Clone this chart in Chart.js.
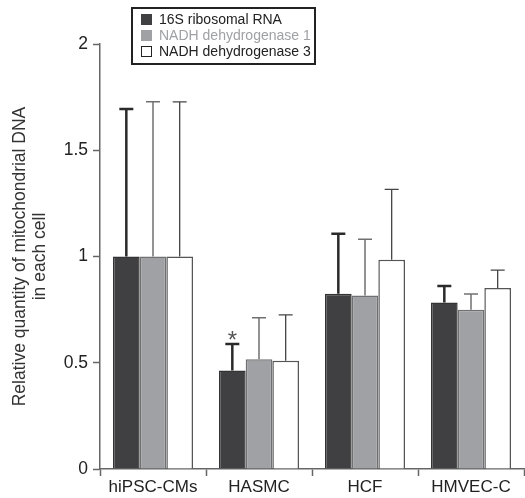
<!DOCTYPE html>
<html>
<head>
<meta charset="utf-8">
<script src="https://cdn.jsdelivr.net/npm/chart.js@4.4.1/dist/chart.umd.min.js"></script>
<style>
  html, body { margin: 0; padding: 0; background: #fff; }
  #wrap { position: relative; width: 525px; height: 498px; }
  #legend {
    position: absolute; left: 131px; top: 7px; width: 181px; height: 52px;
    border: 2px solid #222; font: 14px "Liberation Sans", Arial, sans-serif;
    padding-top: 2px;
  }
  .leg-item { display: flex; align-items: center; height: 16px; }
  .leg-box { width: 11px; height: 11px; margin: 0 7px 0 8px; box-sizing: border-box; }
</style>
</head>
<body>
<div id="wrap">
  <canvas id="chart" width="525" height="498"></canvas>
  <div id="legend"></div>
</div>
<script>
const categories = ['hiPSC-CMs', 'HASMC', 'HCF', 'HMVEC-C'];
const seriesNames = ['16S ribosomal RNA', 'NADH dehydrogenase 1', 'NADH dehydrogenase 3'];
const rrna16s = [1, 0.463, 0.825, 0.783];
const rrna16sErr = [0.694, 0.125, 0.282, 0.078];
const nadh1 = [1, 0.516, 0.817, 0.750];
const nadh1Err = [0.728, 0.196, 0.264, 0.074];
const nadh3 = [1, 0.510, 0.985, 0.852];
const nadh3Err = [0.728, 0.215, 0.331, 0.084];
const rrna16sMarks = ['', '*', '', ''];
const yTicks = [0, 0.5, 1, 1.5, 2];

const fontFam = '"Liberation Sans", Arial, sans-serif';
const fills = ['#404042', '#a0a1a4', '#ffffff'];
const borders = ['#333335', '#707072', '#555555'];
const errColors = ['#2a2a2a', '#707070', '#444444'];
const errWidths = [2.5, 1.5, 1.3];
const legendText = ['#222', '#a0a1a4', '#222'];

document.getElementById('legend').innerHTML = seriesNames.map((n, i) => `
  <div class="leg-item">
    <span class="leg-box" style="background:${fills[i]};border:${i == 2 ? '1.5px solid #222' : 'none'}"></span>
    <span style="color:${legendText[i]}">${n}</span>
  </div>`).join('');

const errorBars = {
  id: 'errorBars',
  afterDatasetsDraw(chart) {
    const ctx = chart.ctx;
    const yScale = chart.scales.y;
    chart.data.datasets.forEach((ds, i) => {
      const meta = chart.getDatasetMeta(i);
      meta.data.forEach((bar, j) => {
        const top = yScale.getPixelForValue(ds.data[j] + ds.errors[j]);
        ctx.save();
        ctx.strokeStyle = errColors[i];
        ctx.lineWidth = errWidths[i];
        ctx.beginPath();
        ctx.moveTo(bar.x, bar.y);
        ctx.lineTo(bar.x, top);
        ctx.moveTo(bar.x - 7, top);
        ctx.lineTo(bar.x + 7, top);
        ctx.stroke();
        if (ds.marks && ds.marks[j]) {
          ctx.fillStyle = '#555';
          ctx.font = '24px ' + fontFam;
          ctx.textAlign = 'center';
          ctx.textBaseline = 'alphabetic';
          ctx.fillText(ds.marks[j], bar.x, top + 4);
        }
        ctx.restore();
      });
    });
  }
};

new Chart(document.getElementById('chart'), {
  type: 'bar',
  data: {
    labels: categories,
    datasets: [
      { label: seriesNames[0], data: rrna16s, errors: rrna16sErr, marks: rrna16sMarks },
      { label: seriesNames[1], data: nadh1, errors: nadh1Err },
      { label: seriesNames[2], data: nadh3, errors: nadh3Err }
    ].map((d, i) => Object.assign(d, {
      backgroundColor: fills[i],
      borderColor: borders[i],
      borderWidth: 1.5,
      borderSkipped: 'bottom',
      barPercentage: 1,
      categoryPercentage: 0.755
    }))
  },
  options: {
    responsive: false,
    animation: false,
    layout: { padding: { top: 44, right: 1, left: 0, bottom: 0 } },
    plugins: { legend: { display: false }, tooltip: { enabled: false } },
    scales: {
      x: {
        grid: { drawOnChartArea: false, tickLength: 7, tickColor: '#666', tickWidth: 1.5 },
        border: { color: '#666', width: 1.5 },
        ticks: { color: '#222', font: { family: fontFam, size: 17 }, padding: 1 },
        afterFit(s) { s.height = 29; }
      },
      y: {
        min: 0, max: 2,
        afterBuildTicks(s) { s.ticks = yTicks.map(v => ({ value: v })); },
        grid: { drawOnChartArea: false, tickLength: 7, tickColor: '#666', tickWidth: 1.5 },
        border: { color: '#666', width: 1.5 },
        ticks: {
          color: '#222', font: { family: fontFam, size: 17.5 }, padding: 5,
          callback: v => String(v)
        },
        title: {
          display: true,
          text: ['Relative quantity of mitochondrial DNA', 'in each cell'],
          color: '#333',
          font: { family: fontFam, size: 17.5, lineHeight: 1.15 },
          padding: { top: 10, bottom: 0 }
        },
        afterFit(s) { s.width = 100; }
      }
    }
  },
  plugins: [errorBars]
});
</script>
</body>
</html>
